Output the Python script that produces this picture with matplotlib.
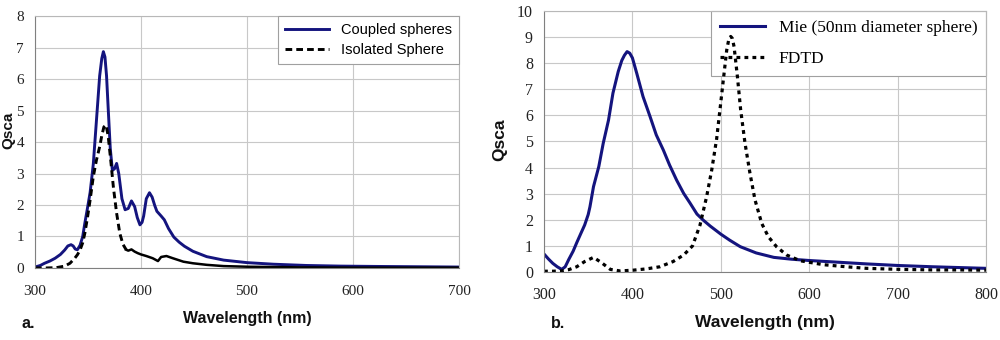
import numpy as np
import matplotlib
matplotlib.use("Agg")
import matplotlib.pyplot as plt

# ---- panel a data ----
wl_coupled = [300, 305, 309, 314, 319, 324, 328, 331, 334, 336, 338, 340, 342.5, 345, 347, 349.5, 352,
              355, 358, 361, 363, 364.5, 366, 367.5, 369, 371, 373, 375, 377, 379, 382, 385, 388,
              391, 394, 396.5, 399, 401, 402.5, 405, 408, 410.5, 413, 415, 419, 422, 426, 431, 436,
              441, 449, 462, 478, 500, 525, 556, 588, 620, 660, 700]
q_coupled = [0.03, 0.08, 0.15, 0.22, 0.31, 0.43, 0.57, 0.7, 0.74, 0.7, 0.6, 0.58, 0.72, 1.0, 1.42, 1.9, 2.4,
             3.3, 4.7, 6.1, 6.65, 6.87, 6.7, 6.1, 5.1, 3.8, 3.1, 3.15, 3.32, 3.0, 2.2, 1.85, 1.89,
             2.13, 1.95, 1.6, 1.37, 1.45, 1.65, 2.2, 2.39, 2.25, 1.98, 1.8, 1.65, 1.53, 1.25, 0.98, 0.82,
             0.69, 0.53, 0.36, 0.25, 0.17, 0.12, 0.08, 0.06, 0.05, 0.04, 0.03]

wl_isolated = [300, 310, 320, 328, 333, 337.5, 340, 342.5, 345, 347, 349.5, 352, 355, 358, 361,
               363, 365, 367, 369, 371.5, 374, 377, 380, 383, 386, 388, 391, 394, 397, 400, 405,
               411, 416, 419, 424, 430, 440, 449, 462, 478, 500, 550, 600, 650, 700]
q_isolated = [0.0, 0.0, 0.01, 0.06, 0.15, 0.31, 0.42, 0.57, 0.8, 1.1, 1.6, 2.16, 2.9, 3.43, 3.85,
              4.2, 4.48, 4.54, 4.2, 3.4, 2.55, 1.74, 1.1, 0.75, 0.58, 0.55, 0.59, 0.52, 0.47, 0.43, 0.38,
              0.31, 0.22, 0.35, 0.38, 0.31, 0.2, 0.15, 0.1, 0.06, 0.04, 0.02, 0.01, 0.01, 0.01]

# ---- panel b data ----
wl_mie = [300, 305, 310, 315, 320, 324, 328, 333, 337, 342, 346, 350, 352, 356, 362, 367, 373, 378,
          384, 388, 391, 394, 397, 400, 405, 412, 420, 427, 435, 442, 450, 458, 465, 473, 480,
          488, 500, 510, 522, 540, 560, 580, 600, 630, 665, 700, 740, 770, 800]
q_mie = [0.69, 0.5, 0.33, 0.2, 0.1, 0.2, 0.48, 0.8, 1.12, 1.5, 1.8, 2.2, 2.5, 3.27, 4.04, 4.93, 5.82, 6.85,
         7.68, 8.1, 8.3, 8.44, 8.38, 8.2, 7.6, 6.72, 5.95, 5.25, 4.67, 4.1, 3.52, 3.01, 2.65, 2.22, 1.99,
         1.76, 1.45, 1.22, 0.97, 0.73, 0.56, 0.49, 0.44, 0.38, 0.31, 0.25, 0.2, 0.17, 0.14]

wl_fdtd = [300, 310, 320, 328, 337, 346, 356, 365, 375, 386, 401, 416, 431, 446, 458, 468, 476.5, 484,
           489.7, 495.3, 499, 503, 506.7, 509, 511.2, 513, 515, 518.8, 522.5, 527.4, 533, 538.7,
           546.3, 553.8, 563, 574.5, 590, 616, 642, 665, 703, 740, 770, 800]
q_fdtd = [0.03, 0.03, 0.04, 0.09, 0.2, 0.4, 0.56, 0.36, 0.1, 0.04, 0.07, 0.12, 0.2, 0.4, 0.65, 1.0, 1.8, 2.89,
          3.9, 5.1, 6.2, 7.4, 8.5, 8.9, 9.02, 8.95, 8.63, 7.48, 6.2, 4.93, 3.78, 2.76,
          1.86, 1.35, 0.97, 0.65, 0.43, 0.28, 0.2, 0.14, 0.1, 0.08, 0.08, 0.07]

navy = '#14147e'
grid_c = '#c8c8c8'

fig = plt.figure(figsize=(10, 3.4), dpi=100)


def style_axes(ax, xmax, ymax, fs, xpad):
    ax.set_xlim(300, xmax)
    ax.set_ylim(0, ymax)
    ax.grid(True, color=grid_c, lw=0.8)
    ax.set_axisbelow(True)
    ax.tick_params(length=0, labelsize=fs)
    ax.tick_params(axis='x', pad=xpad)
    ax.tick_params(axis='y', pad=8)
    for s in ['left', 'bottom']:
        ax.spines[s].set_color('#808080')
    for s in ['top', 'right']:
        ax.spines[s].set_color('#b8b8b8')
    for lab in ax.get_xticklabels() + ax.get_yticklabels():
        lab.set_fontfamily('Liberation Serif')
        lab.set_color('#222222')


# ---- panel a ----
ax1 = fig.add_axes([0.035, 0.2118, 0.424, 0.741])
ax1.plot(wl_coupled, q_coupled, color=navy, lw=2.1, label='Coupled spheres')
wi = np.array(wl_isolated)
qi = np.array(q_isolated)
dash = wi <= 386
ax1.plot(wi[dash], qi[dash], color='black', lw=2.1, ls=(0, (2.3, 1.4)), label='Isolated Sphere')
solid = wi >= 386
ax1.plot(wi[solid], qi[solid], color='black', lw=1.8)
ax1.set_xticks([300, 400, 500, 600, 700])
ax1.set_yticks(range(0, 9))
style_axes(ax1, 700, 8, 11, 12)
leg1 = ax1.legend(loc='upper right', bbox_to_anchor=(1.0, 1.0), fancybox=False, framealpha=1,
                  edgecolor='#a0a0a0', borderaxespad=0, handlelength=3.0,
                  prop={'family': 'Liberation Sans', 'size': 10.5}, borderpad=0.5, labelspacing=0.4)
leg1.get_frame().set_linewidth(0.8)

# ---- panel b ----
ax2 = fig.add_axes([0.544, 0.2, 0.442, 0.768])
ax2.plot(wl_mie, q_mie, color=navy, lw=2.2, label='Mie (50nm diameter sphere)')
ax2.plot(wl_fdtd, q_fdtd, color='black', lw=2.3, ls=(0, (1.2, 1.3)), label='FDTD')
ax2.set_xticks([300, 400, 500, 600, 700, 800])
ax2.set_yticks(range(0, 11))
style_axes(ax2, 800, 10, 11.5, 11)
leg2 = ax2.legend(loc='upper right', bbox_to_anchor=(1.0, 1.0), fancybox=False, framealpha=1,
                  edgecolor='#a0a0a0', borderaxespad=0, handlelength=2.6,
                  prop={'family': 'Liberation Serif', 'size': 12.5}, borderpad=0.5, labelspacing=0.9)
leg2.get_frame().set_linewidth(0.8)
leg2.set_zorder(1.5)  # peak of FDTD is drawn over the legend box

# ---- labels ----
bold = dict(fontfamily='Liberation Sans', fontweight='bold', color='#111111')
fig.text(0.247, 1 - 319 / 340, 'Wavelength (nm)', ha='center', va='center', fontsize=11.5, **bold)
fig.text(0.765, 1 - 323 / 340, 'Wavelength (nm)', ha='center', va='center', fontsize=12.5, **bold)
fig.text(0.022, 1 - 323 / 340, 'a.', ha='left', va='center', fontsize=11.5, **bold)
fig.text(0.551, 1 - 323 / 340, 'b.', ha='left', va='center', fontsize=11.5, **bold)
fig.text(0.008, 1 - 130 / 340, 'Qsca', ha='center', va='center', rotation=90, fontsize=11, **bold)
fig.text(0.5, 1 - 140 / 340, 'Qsca', ha='center', va='center', rotation=90, fontsize=12.5, **bold)

fig.savefig('out.png', dpi=100)
